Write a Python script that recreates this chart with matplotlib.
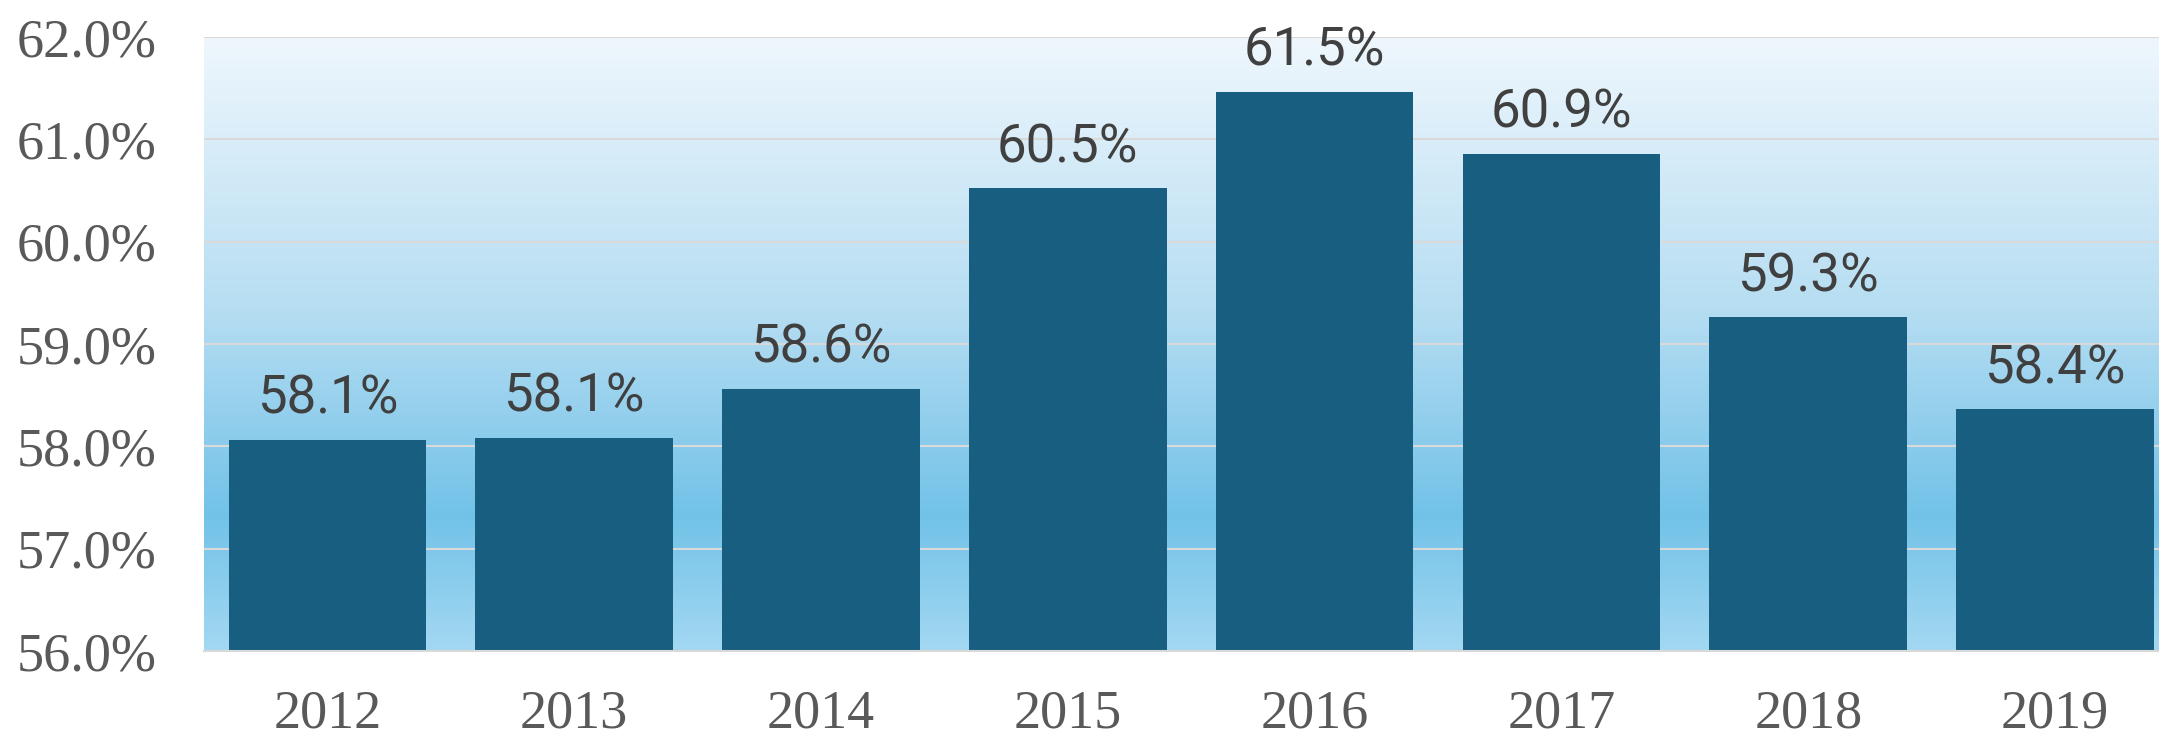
import matplotlib
matplotlib.use('Agg')
import matplotlib.pyplot as plt
import numpy as np
from matplotlib.colors import LinearSegmentedColormap

YEARS  = ['2012', '2013', '2014', '2015', '2016', '2017', '2018', '2019']
VALUES = [58.06, 58.08, 58.56, 60.52, 61.46, 60.86, 59.26, 58.36]
Y_TICKS = [56, 57, 58, 59, 60, 61, 62]

W, H, DPI = 2159, 738, 100
fig = plt.figure(figsize=(W / DPI, H / DPI), dpi=DPI)

# axes run a bit past the right edge of the picture, like the source
left, right_px, top, bottom = 204, 204 + 8 * 246.8, 37, 651
ax = fig.add_axes([left / W, 1 - bottom / H, (right_px - left) / W, (bottom - top) / H])

x = np.arange(len(YEARS))
ax.set_xlim(-0.5, 7.5)
ax.set_ylim(56, 62)

# background gradient
bg = LinearSegmentedColormap.from_list(
    'bg', [(0.0, '#a3d8f2'), (0.22, '#72c2e8'), (0.55, '#b5ddf2'), (1.0, '#eff7fd')])
grad = np.linspace(0, 1, 256).reshape(-1, 1)
ax.imshow(grad, cmap=bg, origin='lower', aspect='auto',
          extent=(-0.5, 7.5, 56, 62), zorder=0)

for yv in Y_TICKS:
    ax.axhline(yv, color='#d9d9d9', linewidth=1.5, zorder=1)

ax.bar(x, VALUES, width=0.8, bottom=0, color='#175e80', zorder=2)

for xi, v in zip(x, VALUES):
    ax.annotate(f'{v:.1f}%', (xi, v), textcoords='offset points',
                xytext=(0, 19), ha='center', va='baseline',
                fontsize=38, color='#404040', family='Roboto')

ax.set_xticks(x)
ax.set_xticklabels(YEARS, fontsize=39, color='#595959', family='Liberation Serif')
ax.set_yticks(Y_TICKS)
ax.set_yticklabels([f'{t:.1f}%' for t in Y_TICKS], fontsize=39,
                   color='#595959', family='Liberation Serif')
ax.tick_params(axis='both', length=0)
ax.tick_params(axis='y', pad=34)
ax.tick_params(axis='x', pad=27)

for s in ['top', 'right', 'left']:
    ax.spines[s].set_visible(False)
ax.spines['bottom'].set_color('#d9d9d9')
ax.spines['bottom'].set_linewidth(1.5)

fig.savefig('out.png', dpi=DPI)
